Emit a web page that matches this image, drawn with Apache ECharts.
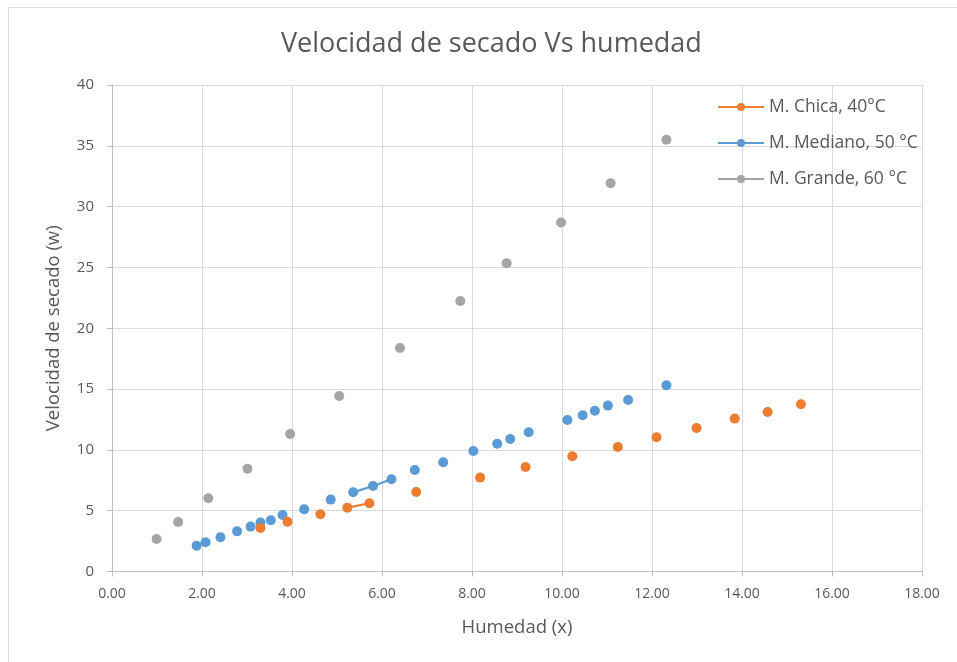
<!DOCTYPE html>
<html>
<head>
<meta charset="utf-8">
<script src="https://cdn.jsdelivr.net/npm/echarts@6/dist/echarts.min.js"></script>
<style>
  html, body { margin: 0; padding: 0; background: #fff; }
  #chart { width: 957px; height: 662px; }
</style>
</head>
<body>
<div id="chart"></div>
<script>
// Drying rate vs moisture for three sample sizes
const chicaX = [3.30, 3.90, 4.63, 5.23, 5.72, 6.76, 8.18, 9.19, 10.23, 11.24, 12.10, 12.99, 13.84, 14.57, 15.31];
const chicaY = [3.58, 4.10, 4.70, 5.25, 5.61, 6.54, 7.72, 8.59, 9.47, 10.24, 11.04, 11.80, 12.57, 13.12, 13.75];
const chicaLinks = [[3, 4]];

const medianoX = [1.88, 2.08, 2.41, 2.78, 3.08, 3.30, 3.53, 3.79, 4.27, 4.86, 5.36, 5.80, 6.21, 6.73, 7.36, 8.03, 8.56, 8.85, 9.26, 10.12, 10.46, 10.73, 11.02, 11.47, 12.32];
const medianoY = [2.12, 2.40, 2.81, 3.30, 3.69, 4.02, 4.21, 4.65, 5.11, 5.91, 6.51, 7.03, 7.58, 8.35, 8.98, 9.91, 10.51, 10.90, 11.45, 12.46, 12.84, 13.22, 13.64, 14.10, 15.31];
const medianoLinks = [[0, 1], [10, 11], [11, 12]];

const grandeX = [0.99, 1.47, 2.14, 3.01, 3.96, 5.05, 6.40, 7.74, 8.77, 9.98, 11.08, 12.32];
const grandeY = [2.67, 4.07, 6.02, 8.45, 11.30, 14.43, 18.38, 22.24, 25.34, 28.69, 31.92, 35.50];
const grandeLinks = [];

const seriesNames = ['M. Chica, 40°C', 'M. Mediano, 50 °C', 'M. Grande, 60 °C'];
const seriesColors = ['#ED7D31', '#5B9BD5', '#A5A5A5'];

const titleText = 'Velocidad de secado Vs humedad';
const xName = 'Humedad (x)';
const yName = 'Velocidad de secado (w)';

// Points joined by a line segment only where a link is listed; '-' breaks the line elsewhere
function buildData(xs, ys, links) {
  const joined = new Set(links.map(l => l[0] + ':' + l[1]));
  const out = [];
  for (let i = 0; i < xs.length; i++) {
    out.push([xs[i], ys[i]]);
    if (i < xs.length - 1 && !joined.has(i + ':' + (i + 1))) out.push('-');
  }
  return out;
}

const FONT = '"Open Sans", "Noto Sans", sans-serif';
const TXT = '#595959';

function makeSeries(idx, xs, ys, links, z) {
  return {
    name: seriesNames[idx],
    type: 'line',
    data: buildData(xs, ys, links),
    connectNulls: false,
    symbol: 'circle',
    symbolSize: 10,
    showSymbol: true,
    z: z,
    itemStyle: { color: seriesColors[idx] },
    lineStyle: { color: seriesColors[idx], width: 2.25 },
    emphasis: { disabled: true }
  };
}

const chart = echarts.init(document.getElementById('chart'), null, { renderer: 'canvas' });
chart.setOption({
  animation: false,
  backgroundColor: '#ffffff',
  title: {
    text: titleText,
    left: 276,
    top: 26,
    textStyle: { fontFamily: FONT, fontSize: 27, fontWeight: 'normal', color: TXT }
  },
  graphic: [{
    type: 'rect',
    shape: { x: 8.5, y: 7.5, width: 1200, height: 1200 },
    style: { fill: 'none', stroke: '#d9d9d9', lineWidth: 1 },
    silent: true
  }],
  legend: {
    orient: 'vertical',
    left: 712,
    top: 93,
    itemWidth: 46,
    itemHeight: 10,
    itemGap: 18,
    data: seriesNames,
    textStyle: { fontFamily: FONT, fontSize: 17.5, color: TXT }
  },
  grid: { left: 112, right: 35, top: 85, bottom: 90.5, containLabel: false },
  xAxis: {
    type: 'value',
    min: 0, max: 18, interval: 2,
    name: xName,
    nameLocation: 'middle',
    nameGap: 47,
    nameTextStyle: { fontFamily: FONT, fontSize: 18.5, color: TXT },
    axisLine: { show: true, lineStyle: { color: '#bfbfbf', width: 1 } },
    axisTick: { show: true, length: 5, lineStyle: { color: '#bfbfbf' } },
    axisLabel: { margin: 16, fontFamily: FONT, fontSize: 14, color: TXT, formatter: v => v.toFixed(2) },
    splitLine: { show: true, lineStyle: { color: '#d9d9d9', width: 1 } }
  },
  yAxis: {
    type: 'value',
    min: 0, max: 40, interval: 5,
    name: yName,
    nameLocation: 'middle',
    nameGap: 49,
    nameTextStyle: { fontFamily: FONT, fontSize: 18.5, color: TXT },
    axisLine: { show: true, lineStyle: { color: '#bfbfbf', width: 1 } },
    axisTick: { show: true, length: 5, lineStyle: { color: '#bfbfbf' } },
    axisLabel: { margin: 18, fontFamily: FONT, fontSize: 15, color: TXT },
    splitLine: { show: true, lineStyle: { color: '#d9d9d9', width: 1 } }
  },
  series: [
    makeSeries(0, chicaX, chicaY, chicaLinks, 4),
    makeSeries(1, medianoX, medianoY, medianoLinks, 3),
    makeSeries(2, grandeX, grandeY, grandeLinks, 2)
  ]
});
</script>
</body>
</html>
